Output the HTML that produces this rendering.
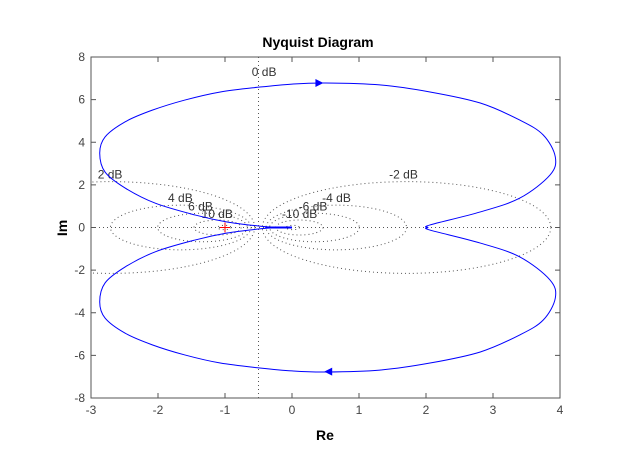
<!DOCTYPE html>
<html><head><meta charset="utf-8"><style>
body{margin:0;background:#fff}
svg{display:block;font-family:"Liberation Sans",Arial,sans-serif}
</style></head><body>
<svg id="chart" width="620" height="476" viewBox="0 0 620 476">
<rect width="620" height="476" fill="#fff"/>
<defs><clipPath id="clip"><rect x="91" y="57" width="469" height="341"/></clipPath></defs>
<rect x="91" y="57" width="469" height="341" fill="#fff"/>
<g id="grid" clip-path="url(#clip)"></g>
<g id="curve" clip-path="url(#clip)"></g>
<g id="axes"></g>
<text x="318" y="47" text-anchor="middle" font-size="14" font-weight="bold">Nyquist Diagram</text>
<text x="325" y="440" text-anchor="middle" font-size="14" font-weight="bold">Re</text>
<text x="67" y="228" text-anchor="middle" font-size="14" font-weight="bold" transform="rotate(-90 67 228)">Im</text>
</svg>
<script>
const xTicks=[-3,-2,-1,0,1,2,3,4];
const yTicks=[-8,-6,-4,-2,0,2,4,6,8];
const dbLevels=[2,4,6,10,20,-2,-4,-6,-10,-20];
const dbLabels=["0 dB","2 dB","4 dB","6 dB","10 dB","-2 dB","-4 dB","-6 dB","-10 dB"];
const dbLabelRe=[-0.6,-2.9,-1.85,-1.55,-1.35,1.45,0.45,0.1,-0.15];
const dbLabelIm=[7.1,2.3,1.2,0.8,0.45,2.3,1.2,0.8,0.45];
// upper branch of the Nyquist curve (mirror gives lower branch)
const curveRe=[0,-0.3,-0.5,-0.97,-1.45,-2.04,-2.49,-2.79,-2.87,-2.79,-2.49,-2.09,-1.6,-1.07,-0.48,0,0.5,1.31,2.06,2.81,3.40,3.75,3.93,3.85,3.40,2.81,2.06,2.03];
const curveIm=[0,0.02,0.07,0.26,0.59,1.14,1.85,2.6,3.49,4.25,4.96,5.5,5.98,6.36,6.59,6.73,6.78,6.69,6.36,5.84,5.04,4.34,3.31,2.46,1.38,0.73,0.12,0];
const X=v=>91+(v+3)*67;
const Y=v=>227.5-v*(341/16);
const NS="http://www.w3.org/2000/svg";
function mk(t,a,p){const e=document.createElementNS(NS,t);for(const k in a)e.setAttribute(k,a[k]);p.appendChild(e);return e;}
const grid=document.getElementById('grid'),curve=document.getElementById('curve'),axes=document.getElementById('axes');
const dot={stroke:"#555","stroke-width":1,"stroke-dasharray":"1 3",fill:"none"};
let l=mk('line',Object.assign({x1:91,x2:560,y1:Y(0),y2:Y(0)},dot),grid);


l=mk('line',Object.assign({x1:X(-0.5),x2:X(-0.5),y1:57,y2:398},dot),grid);


dbLevels.forEach(db=>{const M=Math.pow(10,db/20),M2=M*M;const c=-M2/(M2-1),r=Math.abs(M/(M2-1));
 const e=mk('ellipse',Object.assign({cx:X(c),cy:Y(0),rx:r*67,ry:r*341/16},dot),grid);
 
 });
dbLabels.forEach((s,i)=>{const t=mk('text',{x:X(dbLabelRe[i]),y:Y(dbLabelIm[i]),"font-size":12,fill:"#333"},grid);t.textContent=s;
 
 });
// build point list: upper branch then mirrored lower branch
const pts=[];
curveRe.forEach((v,i)=>pts.push([X(v),Y(curveIm[i])]));
for(let i=curveRe.length-2;i>=0;i--)pts.push([X(curveRe[i]),Y(-curveIm[i])]);
function smooth(P){let d=`M${P[0][0]} ${P[0][1]}`;
 for(let i=0;i<P.length-1;i++){const p0=P[Math.max(i-1,0)],p1=P[i],p2=P[i+1],p3=P[Math.min(i+2,P.length-1)];
  const t=1/6;
  d+=`C${p1[0]+(p2[0]-p0[0])*t} ${p1[1]+(p2[1]-p0[1])*t} ${p2[0]-(p3[0]-p1[0])*t} ${p2[1]-(p3[1]-p1[1])*t} ${p2[0]} ${p2[1]}`;}
 return d;}
const p=mk('path',{d:smooth(pts),stroke:"#00f","stroke-width":1,fill:"none"},curve);


const th=mk('line',{x1:X(-0.4),x2:X(0),y1:Y(0),y2:Y(0),stroke:"#00f","stroke-width":2},curve);


let a=mk('polygon',{points:`${X(0.35)},${Y(6.78)-4} ${X(0.35)},${Y(6.78)+4} ${X(0.35)+8},${Y(6.78)}`,fill:"#00f"},curve);


a=mk('polygon',{points:`${X(0.6)},${Y(-6.76)-4} ${X(0.6)},${Y(-6.76)+4} ${X(0.6)-8},${Y(-6.76)}`,fill:"#00f"},curve);


const cp=mk('path',{d:`M${X(-1)-5} ${Y(0)}H${X(-1)+5}M${X(-1)} ${Y(0)-5}V${Y(0)+5}`,stroke:"#f00","stroke-width":1},curve);


const bx=mk('rect',{x:91,y:57,width:469,height:341,fill:"none",stroke:"#555","stroke-width":1},axes);


xTicks.forEach(v=>{mk('path',{d:`M${X(v)} 398v-5M${X(v)} 57v5`,stroke:"#555"},axes);
 const t=mk('text',{x:X(v),y:414,"text-anchor":"middle","font-size":12,fill:"#444"},axes);t.textContent=v;
 
 });
yTicks.forEach(v=>{mk('path',{d:`M91 ${Y(v)}h5M560 ${Y(v)}h-5`,stroke:"#555"},axes);
 const t=mk('text',{x:85,y:Y(v)+4,"text-anchor":"end","font-size":12,fill:"#444"},axes);t.textContent=v;
 
 });
</script>
</body></html>
